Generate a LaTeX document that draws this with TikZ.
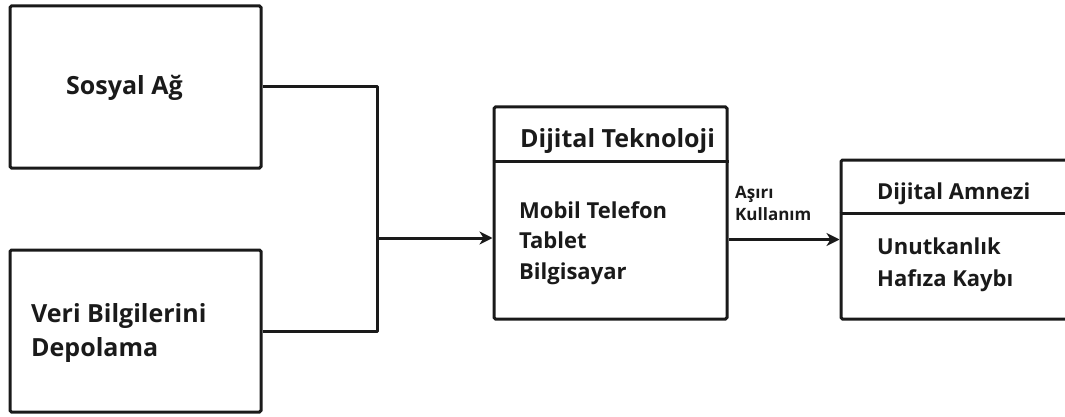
\documentclass[tikz,border=0pt]{standalone}
\usepackage{fontspec}
\setmainfont{Open Sans}
\usetikzlibrary{arrows.meta}
\definecolor{ink}{HTML}{1A1A1A}
\tikzset{
  box/.style={draw=ink, line width=3pt, rounded corners=1.5pt, inner sep=0pt},
  wire/.style={draw=ink, line width=3pt},
  arr/.style={wire, -{Stealth[length=13pt,width=13pt,inset=4pt]}},
  head/.style={anchor=west, inner sep=0pt, text=ink, font=\bfseries\fontsize{25}{34}\selectfont, align=left},
  item/.style={anchor=west, inner sep=0pt, text=ink, font=\bfseries\fontsize{22}{31}\selectfont, align=left},
  small/.style={anchor=west, inner sep=0pt, text=ink, font=\bfseries\fontsize{17}{22}\selectfont, align=left}
}
\begin{document}
\begin{tikzpicture}[x=1pt,y=-1pt]
\useasboundingbox (0,0) rectangle (1065,417);
\clip (0,0) rectangle (1065,417);

% input boxes
\node[box, minimum width=251pt, minimum height=162pt] (soc) at (135.5,87) {};
\node[box, minimum width=251pt, minimum height=162pt] (store) at (135.5,331) {};
\node[head] (tsoc) at (66,88) {Sosyal Ağ};
\node[head] (tstore) at (31,333) {Veri Bilgilerini\\Depolama};

% technology box
\node[box, minimum width=233pt, minimum height=212pt] (tech) at (610.5,213) {};
\coordinate (techsep) at (610.5,161);
\draw[wire] (tech.west |- techsep) -- (tech.east |- techsep);
\node[head] (ttech) at (520,141) {Dijital Teknoloji};
\node[item, font=\bfseries\fontsize{22}{30.5}\selectfont] (ttechitems) at (519,243) {Mobil Telefon\\Tablet\\Bilgisayar};

% amnesia box (runs past the right edge)
\node[box, minimum width=249pt, minimum height=159pt] (amn) at (965.5,239.5) {};
\coordinate (amnsep) at (965.5,213);
\draw[wire] (amn.west |- amnsep) -- (amn.east |- amnsep);
\node[item] (tamn) at (877,194) {Dijital Amnezi};
\node[item, font=\bfseries\fontsize{22}{32}\selectfont] (tamnitems) at (877,265) {Unutkanlık\\Hafıza Kaybı};

% connectors
\coordinate (merge) at (377,238);
\draw[wire, line join=round] (soc.east) -| (merge) |- (store.east);
\draw[arr] (merge) -- (merge -| tech.west);
\draw[arr] (amn.west -| tech.east) -- (amn.west);
\node[small] (lbl) at (735,203) {Aşırı\\Kullanım};
\end{tikzpicture}
\end{document}
